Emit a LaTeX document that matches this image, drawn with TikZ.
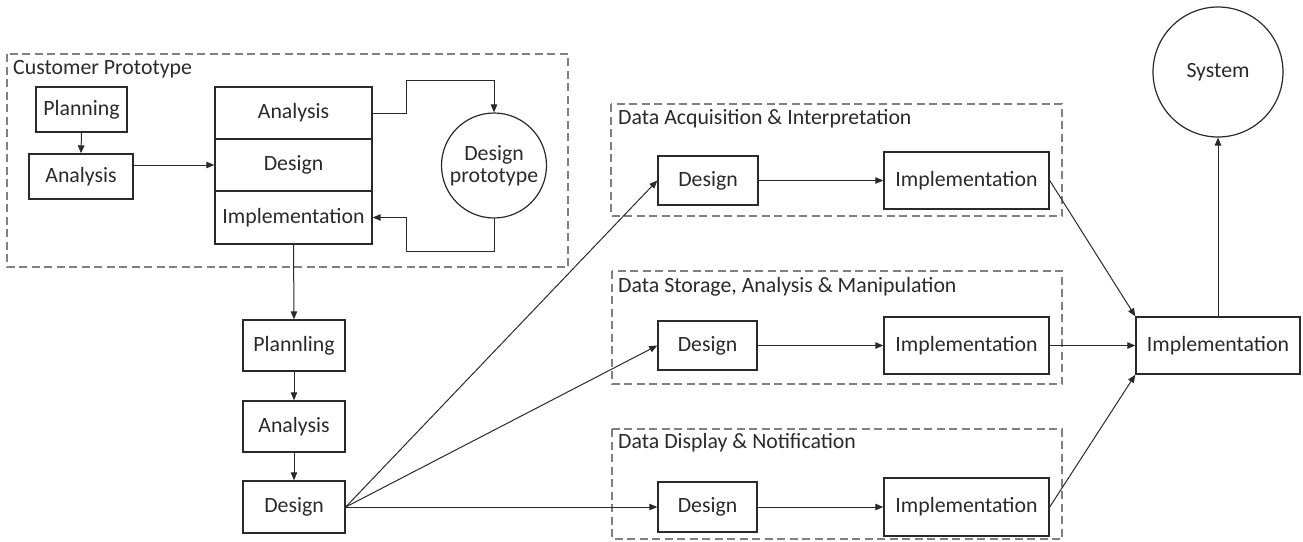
\documentclass[tikz,border=0pt]{standalone}
\usepackage{fontspec}
\setmainfont{Carlito}
\usetikzlibrary{arrows.meta}
\definecolor{ink}{HTML}{2A2A2A}
\definecolor{dashgray}{HTML}{808080}
\begin{document}
\begin{tikzpicture}[x=1pt,y=-1pt,
  every node/.style={font=\fontsize{21.8}{26}\selectfont, text=ink},
  box/.style={draw=ink, line width=1.4pt, inner sep=0pt, rectangle},
  circ/.style={draw=ink, line width=1.2pt, inner sep=0pt, circle, align=center},
  group/.style={draw=dashgray, line width=1.6pt, dash pattern=on 8pt off 4.5pt},
  ttl/.style={anchor=west, inner sep=0pt},
  arr/.style={draw=ink, line width=1pt, -{Triangle[length=8pt,width=6.5pt]}},
  ln/.style={draw=ink, line width=1pt}
]
\useasboundingbox (0,0) rectangle (1303,541);

% group boxes
\draw[group] (7,54) rectangle (568,267);
\draw[group] (611,104) rectangle (1062,216);
\draw[group] (612,271) rectangle (1062,384);
\draw[group] (612,429) rectangle (1062,539);
\node[ttl] (tcp) at (13,69) {Customer Prototype};
\node[ttl] (tda) at (618,119) {Data Acquisition \& Interpretation};
\node[ttl] (tds) at (618,287) {Data Storage, Analysis \& Manipulation};
\node[ttl] (tdd) at (618,443) {Data Display \& Notification};

% customer prototype
\node[box, minimum width=91pt, minimum height=45pt] (plan1) at (81.5,109.5) {Planning};
\node[box, minimum width=104pt, minimum height=45pt] (ana1) at (81,176.5) {Analysis};
\node[box, minimum width=157pt, minimum height=52pt] (stA) at (293.5,113) {Analysis};
\node[box, minimum width=157pt, minimum height=52pt] (stD) at (293.5,165) {Design};
\node[box, minimum width=157pt, minimum height=53pt] (stI) at (293.5,217.5) {Implementation};
\node[circ, minimum size=105pt] (dp) at (494,165.5) {Design\\[-4pt]prototype};

% left column
\node[box, minimum width=102pt, minimum height=51pt] (plan2) at (294,345.5) {Plannling};
\node[box, minimum width=102pt, minimum height=51pt] (ana2) at (294,426.5) {Analysis};
\node[box, minimum width=102pt, minimum height=52pt] (des2) at (294,507) {Design};

% subsystem rows
\node[box, minimum width=100pt, minimum height=49pt] (desA) at (708,180.5) {Design};
\node[box, minimum width=165pt, minimum height=57pt] (impA) at (966.5,180.5) {Implementation};
\node[box, minimum width=99pt, minimum height=49pt] (desS) at (707.5,345.5) {Design};
\node[box, minimum width=165pt, minimum height=57pt] (impS) at (966.5,345.5) {Implementation};
\node[box, minimum width=99pt, minimum height=50pt] (desD) at (707.5,507) {Design};
\node[box, minimum width=165pt, minimum height=58pt] (impD) at (966.5,507) {Implementation};

% final
\node[box, minimum width=164pt, minimum height=57pt] (fin) at (1218,345.5) {Implementation};
\node[circ, minimum size=130pt] (sys) at (1218,72) {System};

% connectors
\draw[arr] (plan1.south) -- (ana1.north);
\draw[arr] (stD.west -| ana1.east) -- (stD.west);
\draw[arr] (stA.east) -- ++(34,0) |- ([yshift=32pt]dp.north) -- (dp.north);
\draw[arr] (dp.south) -- ++(0,33) -| ([xshift=34pt]stI.east) -- (stI.east);
\draw[arr] (stI.south) -- (plan2.north);
\draw[arr] (plan2.south) -- (ana2.north);
\draw[arr] (ana2.south) -- (des2.north);
\draw[arr] (des2.east) -- (desA.west);
\draw[arr] (des2.east) -- (desS.west);
\draw[arr] (des2.east) -- (desD.west);
\draw[arr] (desA.east) -- (impA.west);
\draw[arr] (desS.east) -- (impS.west);
\draw[arr] (desD.east) -- (impD.west);
\draw[arr] (impA.east) -- (fin.north west);
\draw[arr] (impS.east) -- (fin.west);
\draw[arr] (impD.east) -- (fin.south west);
\draw[arr] (fin.north) -- (sys.south);
\end{tikzpicture}
\end{document}
